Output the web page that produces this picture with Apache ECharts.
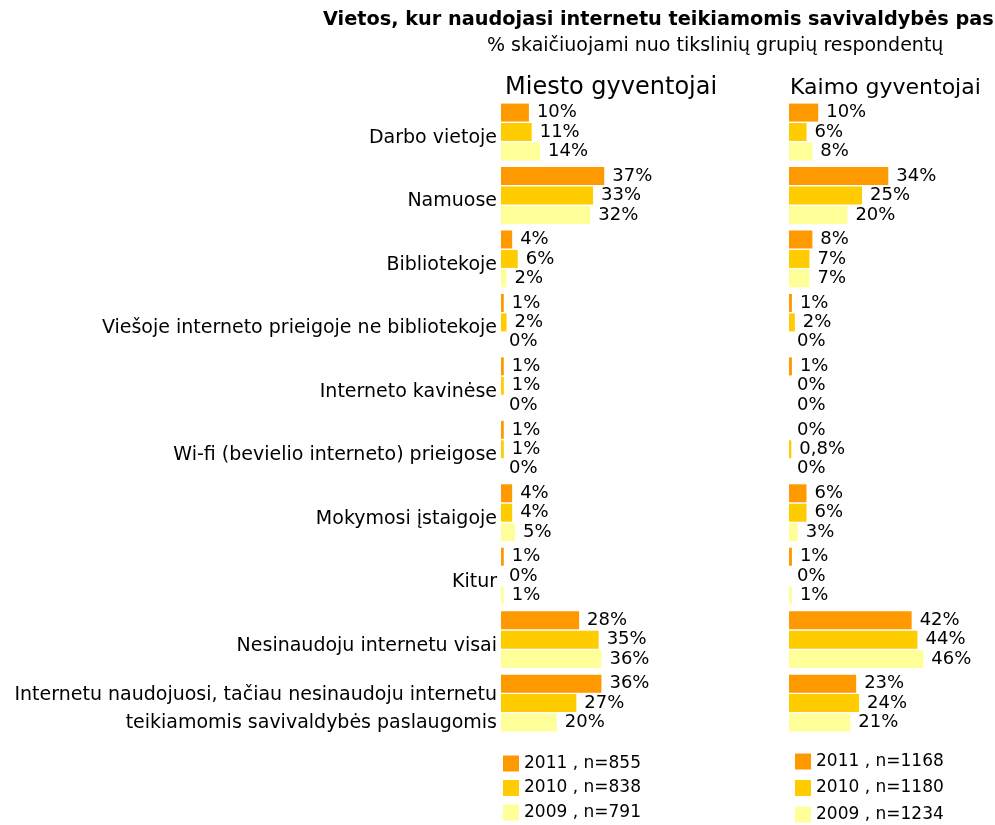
<!DOCTYPE html>
<html>
<head>
<meta charset="utf-8">
<script src="https://cdn.jsdelivr.net/npm/echarts@6/dist/echarts.min.js"></script>
<style>
  html, body { margin: 0; padding: 0; background: #fff; }
  #chart { width: 995px; height: 825px; }
</style>
</head>
<body>
<div id="chart"></div>
<script>
// Places where residents use municipal e-services, by year
const categories = [
  'Darbo vietoje',
  'Namuose',
  'Bibliotekoje',
  'Viešoje interneto prieigoje ne bibliotekoje',
  'Interneto kavinėse',
  'Wi-fi (bevielio interneto) prieigose',
  'Mokymosi įstaigoje',
  'Kitur',
  'Nesinaudoju internetu visai',
  'Internetu naudojuosi, tačiau nesinaudoju internetu\nteikiamomis savivaldybės paslaugomis'
];

// Urban residents (Miesto gyventojai), %
const city2011 = [10, 37, 4, 1, 1, 1, 4, 1, 28, 36];
const city2010 = [11, 33, 6, 2, 1, 1, 4, 0, 35, 27];
const city2009 = [14, 32, 2, 0, 0, 0, 5, 1, 36, 20];

// Rural residents (Kaimo gyventojai), %
const rural2011 = [10, 34, 8, 1, 1, 0, 6, 1, 42, 23];
const rural2010 = [6, 25, 7, 2, 0, 0.8, 6, 0, 44, 24];
const rural2009 = [8, 20, 7, 0, 0, 0, 3, 1, 46, 21];

const cityNames = ['2011 , n=855', '2010 , n=838', '2009 , n=791'];
const ruralNames = ['2011 , n=1168', '2010 , n=1180', '2009 , n=1234'];

const colors = ['#FF9900', '#FFCC00', '#FFFF99'];
const FONT = 'DejaVu Sans';

const fmt = p => String(p.value).replace('.', ',') + '%';

// Category labels sit a little below the band centre
const catLabel = v => v.split('\n').map(line => '{c|' + line + '}').join('\n');

function barSeries(name, data, color, idx) {
  return {
    name: name,
    type: 'bar',
    xAxisIndex: idx,
    yAxisIndex: idx,
    data: data,
    barWidth: 18,
    barGap: '8%',
    itemStyle: { color: color },
    label: {
      show: true,
      position: 'right',
      distance: 8,
      formatter: fmt,
      fontFamily: FONT,
      fontSize: 18,
      color: '#000'
    },
    emphasis: { disabled: true },
    animation: false
  };
}

const chart = echarts.init(document.getElementById('chart'), null, { renderer: 'canvas' });

chart.setOption({
  backgroundColor: '#fff',
  animation: false,
  title: [
    {
      text: 'Vietos, kur naudojasi internetu teikiamomis savivaldybės paslaugomis',
      left: 323, top: 10, padding: 0,
      textStyle: { fontFamily: FONT, fontSize: 19.3, fontWeight: 'bold', color: '#000' }
    },
    {
      text: '% skaičiuojami nuo tikslinių grupių respondentų',
      left: 487, top: 37, padding: 0,
      textStyle: { fontFamily: FONT, fontSize: 19, fontWeight: 'normal', color: '#000' }
    },
    {
      text: 'Miesto gyventojai',
      left: 505, top: 76, padding: 0,
      textStyle: { fontFamily: FONT, fontSize: 24, fontWeight: 'normal', color: '#000' }
    },
    {
      text: 'Kaimo gyventojai',
      left: 790, top: 77, padding: 0,
      textStyle: { fontFamily: FONT, fontSize: 22, fontWeight: 'normal', color: '#000' }
    }
  ],
  legend: [
    {
      data: cityNames,
      orient: 'vertical',
      left: 503, top: 755,
      padding: 0,
      itemWidth: 16, itemHeight: 16, itemGap: 7.5,
      icon: 'rect',
      textStyle: { fontFamily: FONT, fontSize: 17, color: '#000' }
    },
    {
      data: ruralNames,
      orient: 'vertical',
      left: 795, top: 753,
      padding: 0,
      itemWidth: 16, itemHeight: 16, itemGap: 9.5,
      icon: 'rect',
      textStyle: { fontFamily: FONT, fontSize: 17, color: '#000' }
    }
  ],
  grid: [
    { left: 501, top: 100.3, width: 139.5, height: 634.5 },
    { left: 789, top: 100.3, width: 146, height: 634.5 }
  ],
  xAxis: [
    { gridIndex: 0, type: 'value', min: 0, max: 50, show: false },
    { gridIndex: 1, type: 'value', min: 0, max: 50, show: false }
  ],
  yAxis: [
    {
      gridIndex: 0, type: 'category', inverse: true, data: categories,
      axisLine: { show: false }, axisTick: { show: false }, splitLine: { show: false },
      axisLabel: {
        margin: 4, align: 'right',
        formatter: catLabel,
        rich: {
          c: {
            fontFamily: FONT, fontSize: 19, color: '#000',
            lineHeight: 28, padding: [12, 0, 0, 0]
          }
        }
      }
    },
    {
      gridIndex: 1, type: 'category', inverse: true, data: categories,
      axisLine: { show: false }, axisTick: { show: false }, splitLine: { show: false },
      axisLabel: { show: false }
    }
  ],
  series: [
    barSeries(cityNames[0], city2011, colors[0], 0),
    barSeries(cityNames[1], city2010, colors[1], 0),
    barSeries(cityNames[2], city2009, colors[2], 0),
    barSeries(ruralNames[0], rural2011, colors[0], 1),
    barSeries(ruralNames[1], rural2010, colors[1], 1),
    barSeries(ruralNames[2], rural2009, colors[2], 1)
  ]
});
</script>
</body>
</html>
